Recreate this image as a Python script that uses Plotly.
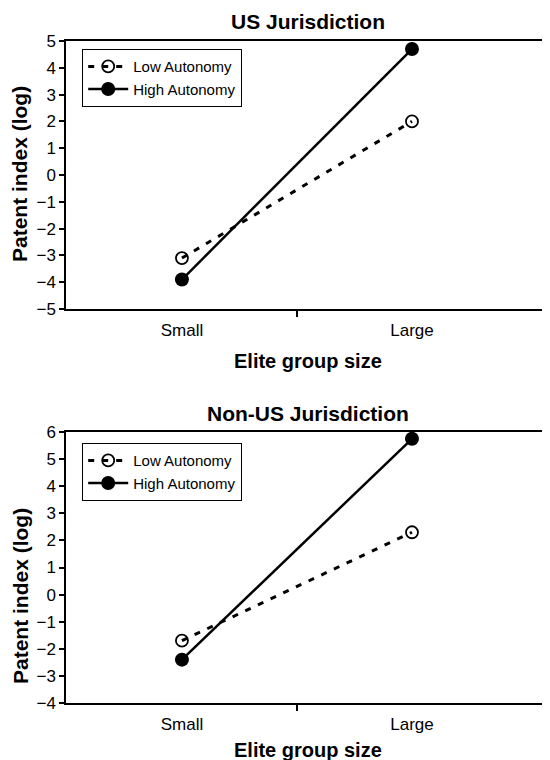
import plotly.graph_objects as go

categories = ["Small", "Large"]
cat_pos = [0, 1]
us_low = [-3.1, 2.0]
us_high = [-3.9, 4.7]
nonus_low = [-1.7, 2.3]
nonus_high = [-2.4, 5.75]
series_names = ["Low Autonomy", "High Autonomy"]
panel_titles = ["US Jurisdiction", "Non-US Jurisdiction"]
yranges = [[-5, 5], [-4, 6]]
ytick_top = list(range(-5, 6))
ytick_bot = list(range(-4, 7))

FONT = "Liberation Sans, Arial, sans-serif"
OFF = 8  # page body margin
W, H = 550 - OFF, 760 - OFF

def px_(x):
    return (x - OFF) / W

def py(y):
    return 1 - (y - OFF) / H

fig = go.Figure()

panels = [
    dict(low=us_low, high=us_high, xa="x", ya="y", legend="legend"),
    dict(low=nonus_low, high=nonus_high, xa="x2", ya="y2", legend="legend2"),
]
for p in panels:
    fig.add_trace(go.Scatter(
        x=cat_pos, y=p["low"], name=series_names[0], mode="lines+markers",
        line=dict(color="black", width=3, dash="6px,8px"),
        marker=dict(symbol="circle-open", size=12, color="black", line=dict(width=1.8, color="black")),
        xaxis=p["xa"], yaxis=p["ya"], legend=p["legend"]))
    fig.add_trace(go.Scatter(
        x=cat_pos, y=p["high"], name=series_names[1], mode="lines+markers",
        line=dict(color="black", width=2.5),
        marker=dict(symbol="circle", size=14, color="black"),
        xaxis=p["xa"], yaxis=p["ya"], legend=p["legend"]))

xdom = [px_(66), 1.0]
ydom_top = [py(309), py(41)]
ydom_bot = [py(703), py(432)]

xcommon = dict(
    range=[-0.504, 1.6], tickvals=cat_pos, ticktext=categories, ticks="",
    showline=True, linecolor="black", linewidth=1.5, mirror=True,
    showgrid=False, zeroline=False, ticklabelstandoff=5, automargin=False,
    tickfont=dict(family=FONT, size=17, color="black"),
    minor=dict(tickvals=[0.5], ticks="outside", ticklen=6, tickcolor="black", tickwidth=1.5, showgrid=False),
)
ycommon = dict(
    ticks="outside", ticklen=5, tickcolor="black", tickwidth=1.5,
    showline=True, linecolor="black", linewidth=1.5, automargin=False,
    showgrid=False, zeroline=False,
    tickfont=dict(family=FONT, size=17, color="black"),
)

legcommon = dict(xanchor="left", yanchor="top",
                 bgcolor="white", bordercolor="black", borderwidth=1.2,
                 font=dict(family=FONT, size=15, color="black"),
                 tracegroupgap=0, itemwidth=40)

fig.update_layout(
    width=W, height=H,
    margin=dict(l=0, r=0, t=0, b=0, pad=0),
    plot_bgcolor="white", paper_bgcolor="white",
    font=dict(family=FONT, color="black"),
    xaxis=dict(domain=xdom, anchor="y", **xcommon),
    yaxis=dict(domain=ydom_top, anchor="x", range=yranges[0], tickvals=ytick_top, **ycommon),
    xaxis2=dict(domain=xdom, anchor="y2", **xcommon),
    yaxis2=dict(domain=ydom_bot, anchor="x2", range=yranges[1], tickvals=ytick_bot, **ycommon),
    legend=dict(x=px_(82), y=py(49), **legcommon),
    legend2=dict(x=px_(82), y=py(443), **legcommon),
)

xc = px_((66 + 550) / 2)
annots = [
    dict(text="<b>" + panel_titles[0] + "</b>", x=xc, y=py(22), size=21),
    dict(text="<b>" + panel_titles[1] + "</b>", x=xc, y=py(413), size=21),
    dict(text="<b>Elite group size</b>", x=xc, y=py(361), size=20),
    dict(text="<b>Elite group size</b>", x=xc, y=py(750), size=20),
]
for a in annots:
    fig.add_annotation(text=a["text"], x=a["x"], y=a["y"], xref="paper", yref="paper",
                       showarrow=False, xanchor="center", yanchor="middle",
                       font=dict(family=FONT, size=a["size"], color="black"))
for yc in [174, 596]:
    fig.add_annotation(text="<b>Patent index (log)</b>", x=px_(20), y=py(yc), xref="paper", yref="paper",
                       showarrow=False, xanchor="center", yanchor="middle", textangle=-90,
                       font=dict(family=FONT, size=21, color="black"))

fig.write_html("out.html")
